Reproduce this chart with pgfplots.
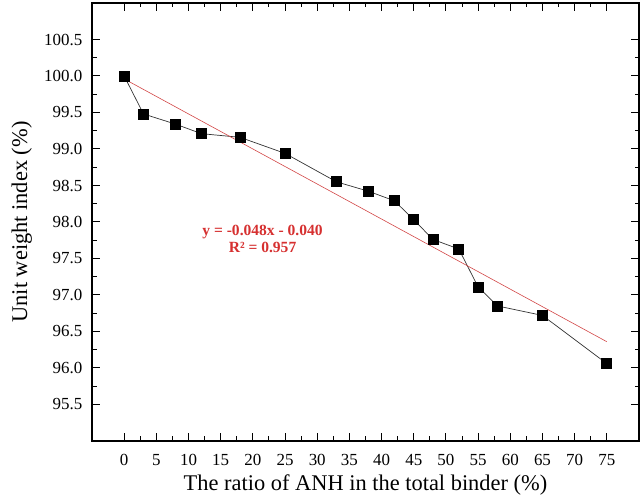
\documentclass[border=0pt]{standalone}
\usepackage{pgfplots}
\pgfplotsset{compat=1.18}
\usetikzlibrary{calc}
\usepackage{fontspec}
\setmainfont{Liberation Serif}
\definecolor{fitred}{RGB}{214,48,48}
\definecolor{linered}{RGB}{210,70,70}
\begin{document}
\begin{tikzpicture}
\begin{axis}[
  name=ax, at={(0,0)}, anchor=south west,
  scale only axis, width=547bp, height=438bp,
  xmin=-5, xmax=80, ymin=95, ymax=101,
  xtick={0,5,...,75}, ytick={95.5,96,...,100.5},
  minor x tick num=1, minor y tick num=1,
  tick align=inside, major tick length=8bp, minor tick length=4.5bp,
  axis line style={line width=1.3pt},
  every tick/.style={line width=1pt, black},
  tick pos=both,
  /pgf/number format/assume math mode=true,
  yticklabel style={/pgf/number format/fixed, /pgf/number format/fixed zerofill, /pgf/number format/precision=1, anchor=east, inner sep=0pt},
  xticklabel style={/pgf/number format/fixed, anchor=base, inner sep=0pt},
  tick label style={font=\fontsize{17}{20}\selectfont},
  xticklabel shift=25bp,
  yticklabel shift=9.5bp,
  xlabel={The ratio of ANH in the total binder (\%)},
  ylabel={Unit weight index (\%)},
  label style={font=\fontsize{22.5}{26}\selectfont},
  xlabel style={at={(axis description cs:0.5,-0.1119)}, anchor=base, inner sep=0pt},
  ylabel style={at={(axis description cs:-0.1188,0.5)}, anchor=base, inner sep=0pt},
  clip=false,
]
\addplot[black!80, line width=0.7pt, mark=square*, mark size=5bp, mark options={fill=black, draw=black, solid}]
coordinates {(0,100.00) (3,99.48) (8,99.34) (12,99.21) (18,99.16) (25,98.94) (33,98.55) (38,98.42) (42,98.29) (45,98.03) (48,97.76) (52,97.63) (55,97.11) (58,96.85) (65,96.72) (75,96.06)};
\addplot[linered, line width=0.6pt] coordinates {(0,99.96) (75,96.36)};
\node[align=center, text=fitred, font=\fontsize{15.6}{17}\selectfont\bfseries] at (axis cs:21.5,97.77) {y = -0.048x - 0.040\\R² = 0.957};
\end{axis}
\pgfresetboundingbox
\path[use as bounding box] ($(ax.south west)+(-92bp,-61bp)$) rectangle ($(ax.north east)+(1bp,3bp)$);
\end{tikzpicture}
\end{document}
